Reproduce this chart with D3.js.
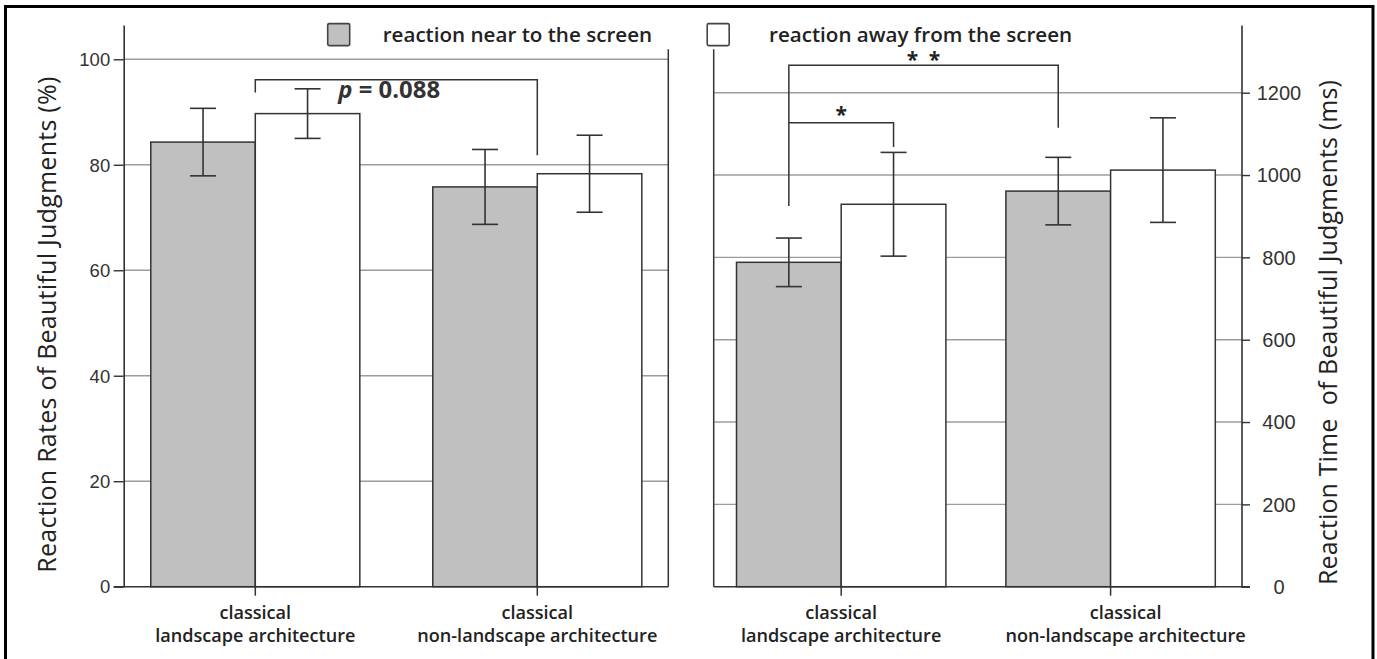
<!DOCTYPE html>
<html>
<head>
<meta charset="utf-8">
<script src="https://cdn.jsdelivr.net/npm/d3@7"></script>
<style>
  html, body { margin: 0; padding: 0; background: #fff; }
  svg { display: block; font-family: "Open Sans", "Noto Sans", sans-serif; }
</style>
</head>
<body>
<svg id="chart" width="1377" height="659"></svg>
<script>
// ---------------- data ----------------
const categoryTop = ["classical", "classical"];
const categoryBottom = ["landscape architecture", "non-landscape architecture"];
const categories = ["landscape", "non-landscape"];
const seriesNames = ["reaction near to the screen", "reaction away from the screen"];
const seriesKeys = ["near", "away"];

const rateNear = [84.3, 75.8];
const rateNearErr = [6.4, 7.1];
const rateAway = [89.7, 78.3];
const rateAwayErr = [4.7, 7.3];

const timeNear = [788, 961];
const timeNearErr = [59, 82];
const timeAway = [929, 1012];
const timeAwayErr = [126, 127];

const rateTicks = [0, 20, 40, 60, 80, 100];
const timeTicks = [0, 200, 400, 600, 800, 1000, 1200];

const pText = "0.088";
// ---------------------------------------

const svg = d3.select("#chart");
const fillColor = { near: "#c0c0c0", away: "#ffffff" };
const dark = "#333";
const gridCol = "#9c9c9c";

// frame
svg.append("rect").attr("x", 5.5).attr("y", 6.5).attr("width", 1367.5).attr("height", 720)
  .attr("fill", "none").attr("stroke", "#000").attr("stroke-width", 3);

const y0 = 586.7, yTop = 25, innerTop = 49.3;

function panel(opts) {
  const { values, errs, ticks, yMax, axisX, axisSide, xRange, subPad, gridX0, gridX1,
          innerX, baseX0, baseX1, labelShift } = opts;
  const g = svg.append("g");
  const y = d3.scaleLinear().domain([0, yMax]).range([y0, yTop]);
  const x = d3.scaleBand().domain(categories).range(xRange).padding(0);
  const xs = d3.scaleBand().domain(seriesKeys).range([0, x.bandwidth()]).paddingInner(0).paddingOuter(subPad);

  // gridlines
  g.append("g").selectAll("line").data(ticks.filter(t => t > 0)).join("line")
    .attr("x1", gridX0).attr("x2", gridX1)
    .attr("y1", d => y(d)).attr("y2", d => y(d))
    .attr("stroke", gridCol).attr("stroke-width", 1.4);

  // inner vertical boundary
  g.append("line").attr("x1", innerX).attr("x2", innerX).attr("y1", innerTop).attr("y2", y0)
    .attr("stroke", dark).attr("stroke-width", 1.5);

  // bars
  const rows = categories.map((c, i) => ({
    cat: c,
    items: seriesKeys.map((k, j) => ({ key: k, v: values[j][i], e: errs[j][i] }))
  }));
  const cg = g.append("g").selectAll("g").data(rows).join("g")
    .attr("transform", d => `translate(${x(d.cat)},0)`);
  cg.selectAll("rect").data(d => d.items).join("rect")
    .attr("x", d => xs(d.key)).attr("width", xs.bandwidth())
    .attr("y", d => y(d.v)).attr("height", d => y0 - y(d.v))
    .attr("fill", d => fillColor[d.key]).attr("stroke", dark).attr("stroke-width", 1.5);

  // error bars
  const eb = cg.selectAll("g.err").data(d => d.items).join("g").attr("class", "err")
    .attr("transform", d => `translate(${xs(d.key) + xs.bandwidth() / 2},0)`);
  eb.append("line").attr("x1", 0).attr("x2", 0)
    .attr("y1", d => y(d.v + d.e)).attr("y2", d => y(d.v - d.e))
    .attr("stroke", dark).attr("stroke-width", 1.6);
  eb.append("line").attr("x1", -13).attr("x2", 13)
    .attr("y1", d => y(d.v + d.e)).attr("y2", d => y(d.v + d.e))
    .attr("stroke", dark).attr("stroke-width", 1.6);
  eb.append("line").attr("x1", -13).attr("x2", 13)
    .attr("y1", d => y(d.v - d.e)).attr("y2", d => y(d.v - d.e))
    .attr("stroke", dark).attr("stroke-width", 1.6);

  // baseline
  g.append("line").attr("x1", baseX0).attr("x2", baseX1).attr("y1", y0).attr("y2", y0)
    .attr("stroke", dark).attr("stroke-width", 1.6);
  // category ticks
  g.append("g").selectAll("line").data(categories).join("line")
    .attr("x1", d => x(d) + x.bandwidth() / 2).attr("x2", d => x(d) + x.bandwidth() / 2)
    .attr("y1", y0).attr("y2", y0 + 9).attr("stroke", dark).attr("stroke-width", 1.5);

  // category labels
  const lab = g.append("g").selectAll("text").data(categories).join("text")
    .attr("text-anchor", "middle").attr("font-size", 18.1).attr("font-weight", 600)
    .attr("fill", "#222");
  lab.append("tspan").attr("x", (d, i) => x(d) + x.bandwidth() / 2 + labelShift[i]).attr("y", 618.5)
    .text((d, i) => categoryTop[i]);
  lab.append("tspan").attr("x", (d, i) => x(d) + x.bandwidth() / 2 + labelShift[i]).attr("y", 642)
    .text((d, i) => categoryBottom[i]);

  // y axis
  const axis = (axisSide === "left" ? d3.axisLeft(y) : d3.axisRight(y))
    .tickValues(ticks).tickFormat(d3.format("d"))
    .tickSizeInner(axisSide === "left" ? 10 : 8.5).tickSizeOuter(0);
  const ag = g.append("g").attr("transform", `translate(${axisX},0)`).call(axis);
  ag.select(".domain").attr("stroke", dark).attr("stroke-width", 1.6);
  ag.selectAll(".tick line").attr("stroke", dark).attr("stroke-width", 1.4);
  ag.selectAll(".tick text").attr("fill", "#333").attr("font-family", null);
  if (axisSide === "left") {
    ag.selectAll(".tick text").attr("font-size", 18.5).attr("x", -13.5).attr("dy", "0.34em");
  } else {
    ag.selectAll(".tick text").attr("font-size", 20).attr("x", 37.5)
      .attr("text-anchor", "middle").attr("dy", "0.34em");
  }
  return { x, xs, y };
}

const L = panel({
  values: [rateNear, rateAway], errs: [rateNearErr, rateAwayErr], ticks: rateTicks,
  yMax: 106.5, axisX: 123.7, axisSide: "left", xRange: [114.3, 678.3], subPad: 0.349,
  gridX0: 123.7, gridX1: 668.3, innerX: 668.3, baseX0: 113.7, baseX1: 668.3, labelShift: [0, 0]
});
const R = panel({
  values: [timeNear, timeAway], errs: [timeNearErr, timeAwayErr], ticks: timeTicks,
  yMax: 1364.5, axisX: 1241.5, axisSide: "right", xRange: [706.5, 1245.3], subPad: 0.2865,
  gridX0: 713.7, gridX1: 1241.5, innerX: 713.7, baseX0: 713.7, baseX1: 1250, labelShift: [0, 15]
});

// axis titles
svg.append("text").attr("transform", "translate(56,324.7) rotate(-90)")
  .attr("text-anchor", "middle").attr("font-size", 25).attr("fill", "#222")
  .attr("textLength", 496).attr("lengthAdjust", "spacing")
  .text("Reaction Rates of Beautiful Judgments (%)");
svg.append("text").attr("transform", "translate(1337,332.5) rotate(-90)")
  .attr("text-anchor", "middle").attr("font-size", 25).attr("fill", "#222")
  .attr("textLength", 505).attr("lengthAdjust", "spacing")
  .attr("xml:space", "preserve").style("white-space", "pre")
  .text("Reaction Time  of Beautiful Judgments (ms)");

// legend
const legendX = [327.7, 707.2];
const legendTextX = [382.7, 769];
seriesKeys.forEach((k, i) => {
  svg.append("rect").attr("x", legendX[i]).attr("y", 23.6).attr("width", 22).attr("height", 22)
    .attr("rx", 1.5).attr("fill", fillColor[k]).attr("stroke", "#444").attr("stroke-width", 1.6);
  svg.append("text").attr("x", legendTextX[i]).attr("y", 41.7)
    .attr("font-size", 20.6).attr("font-weight", 600).attr("fill", "#222").text(seriesNames[i]);
});

// significance brackets
const cx = (P, ci) => P.x(categories[ci]) + P.x.bandwidth() / 2;
const bx = (P, ci, k) => P.x(categories[ci]) + P.xs(k) + P.xs.bandwidth() / 2;

// left: p = 0.088 between category boundaries
svg.append("path")
  .attr("d", `M${cx(L, 0)},${L.y(93.7)}V${L.y(96.1)}H${cx(L, 1)}V${L.y(81.8)}`)
  .attr("fill", "none").attr("stroke", dark).attr("stroke-width", 1.5);
const pt = svg.append("text").attr("x", 338.3).attr("y", 98.3)
  .attr("font-size", 23.9).attr("font-weight", 700).attr("fill", "#333").attr("xml:space", "preserve");
pt.append("tspan").attr("font-style", "italic").text("p");
pt.append("tspan").text(" = " + pText);

// right: ** between near(cat0) and near(cat1); * between near(cat0) and away(cat0)
svg.append("path")
  .attr("d", `M${bx(R, 0, "near")},${R.y(925)}V${R.y(1267)}H${bx(R, 1, "near")}V${R.y(1115)}`)
  .attr("fill", "none").attr("stroke", dark).attr("stroke-width", 1.5);
svg.append("path")
  .attr("d", `M${bx(R, 0, "near")},${R.y(1127)}H${bx(R, 0, "away")}V${R.y(1068)}`)
  .attr("fill", "none").attr("stroke", dark).attr("stroke-width", 1.5);
const mid2 = (bx(R, 0, "near") + bx(R, 1, "near")) / 2;
const mid1 = (bx(R, 0, "near") + bx(R, 0, "away")) / 2;
svg.append("text").attr("x", mid2).attr("y", 67).attr("text-anchor", "middle")
  .attr("font-size", 21).attr("font-weight", 700).attr("fill", "#222").text("*\u2002*");
svg.append("text").attr("x", mid1).attr("y", 122).attr("text-anchor", "middle")
  .attr("font-size", 21).attr("font-weight", 700).attr("fill", "#222").text("*");
</script>
</body>
</html>
